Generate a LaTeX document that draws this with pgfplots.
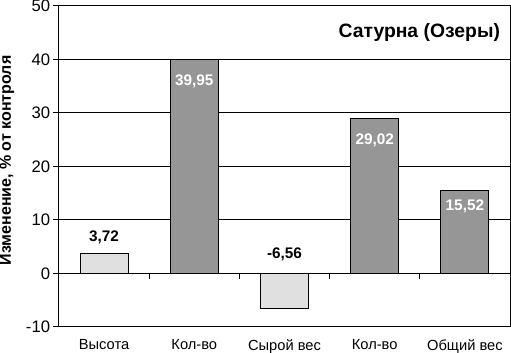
\documentclass[border=0pt]{standalone}
\usepackage{pgfplots}
\pgfplotsset{compat=1.18}
\usepackage{fontspec}
\setmainfont{Liberation Sans}
\definecolor{lightbar}{HTML}{E0E0E0}
\definecolor{darkbar}{HTML}{969696}
\begin{document}
\begin{tikzpicture}
\useasboundingbox (-44.25pt,-19.5pt) rectangle (339pt,245.25pt);
\begin{axis}[
  at={(0,0)}, anchor=south west,
  scale only axis,
  width=338.25pt, height=240.75pt,
  xmin=-0.5, xmax=4.5,
  ymin=-10, ymax=50,
  ytick={-10,0,...,50},
  xtick={0,1,2,3,4},
  xticklabels={Высота,Кол-во,Сырой вес,Кол-во,Общий вес},
  xtick pos=bottom, ytick pos=left,
  major x tick style={draw=none},
  tick align=outside,
  major tick length=4.5pt,
  ymajorgrids,
  grid style={black, line width=0.75pt},
  axis line style={black, line width=0.75pt},
  tick style={black, line width=0.75pt},
  /pgf/number format/assume math mode=true,
  yticklabel style={font=\fontsize{12.5}{14}\selectfont, inner sep=2pt},
  xticklabel style={font=\fontsize{11}{13}\selectfont, yshift=-1.5pt},
  ylabel={Изменение, \% от контроля},
  ylabel style={font=\bfseries\fontsize{12}{14}\selectfont, at={(axis description cs:0,0.5)}, anchor=center, yshift=39pt, xshift=4.5pt},
  ybar, bar width=36pt, bar shift=0pt,
  clip=false,
]
\addplot[fill=lightbar, draw=black, line width=0.75pt] coordinates {(0,3.72) (2,-6.56)};
\addplot[fill=darkbar, draw=black, line width=0.75pt] coordinates {(1,39.95) (3,29.02) (4,15.52)};
\pgfplotsinvokeforeach{0.5,1.5,2.5,3.5}{
  \draw[black, line width=0.75pt] (axis cs:#1,0) -- ++(0pt,-4.5pt);
}
\node[font=\bfseries\fontsize{11.5}{13}\selectfont] at (axis cs:0,6.8) {3,72};
\node[font=\bfseries\fontsize{11.5}{13}\selectfont, white] at (axis cs:1,36.0) {39,95};
\node[font=\bfseries\fontsize{11.5}{13}\selectfont] at (axis cs:2,3.6) {-6,56};
\node[font=\bfseries\fontsize{11.5}{13}\selectfont, white] at (axis cs:3,24.95) {29,02};
\node[font=\bfseries\fontsize{11.5}{13}\selectfont, white] at (axis cs:4,12.6) {15,52};
\node[font=\bfseries\fontsize{14.5}{17}\selectfont, anchor=east] at ([xshift=-4pt,yshift=-20.25pt]rel axis cs:1,1) {Сатурна (Озеры)};
\end{axis}
\end{tikzpicture}
\end{document}
